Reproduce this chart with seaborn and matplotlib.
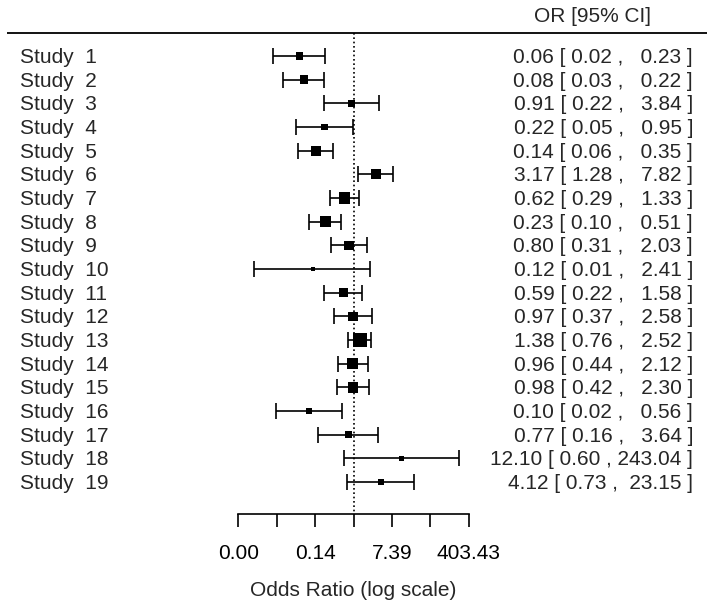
import numpy as np
import pandas as pd
import matplotlib
matplotlib.use("Agg")
import matplotlib.pyplot as plt
import seaborn as sns

# ---- data (printed with 2 decimals) ----
studies = [f"Study  {i}" for i in range(1, 20)]
odds_ratio = [0.060, 0.076, 0.91, 0.22, 0.14, 3.17, 0.62, 0.23, 0.80, 0.12,
              0.59, 0.97, 1.38, 0.96, 0.98, 0.10, 0.77, 12.10, 4.12]
ci_lower = [0.0153, 0.026, 0.22, 0.049, 0.057, 1.28, 0.29, 0.10, 0.31, 0.0055,
            0.22, 0.37, 0.76, 0.44, 0.42, 0.0176, 0.16, 0.60, 0.73]
ci_upper = [0.23, 0.22, 3.84, 0.95, 0.35, 7.82, 1.33, 0.51, 2.03, 2.41,
            1.58, 2.58, 2.52, 2.12, 2.30, 0.56, 3.64, 243.04, 23.15]
tick_values = [-6, -4, -2, 0, 2, 4, 6]          # log scale positions
tick_labels = ["0.00", "", "0.14", "", "7.39", "", "403.43"]
header = "OR [95% CI]"
xlabel = "Odds Ratio (log scale)"

sns.set_style("white")
plt.rcParams['font.family'] = ['Liberation Sans', 'DejaVu Sans']
FS = 15

df = pd.DataFrame({"study": studies, "or": odds_ratio,
                   "lo": ci_lower, "hi": ci_upper})
df["row"] = np.arange(1, len(df) + 1)
df["yi"] = np.log(df["or"])
df["lo_l"] = np.log(df["lo"])
df["hi_l"] = np.log(df["hi"])
# square sizes like metafor: linear in 1/se, rescaled to 0.5..1.5
se = (df["hi_l"] - df["yi"]) / 1.96
wi = 1 / se
p = wi / wi.sum()
p = (p - p.min()) / (p.max() - p.min()) + 0.5
side_pt = 9.13 * p * 0.72
df["area"] = side_pt**2

fig = plt.figure(figsize=(7.14, 6.09), dpi=100)
ax = fig.add_axes([0, 0, 1, 1])
px_per = 19.2
x0 = 353.5
ax.set_xlim((0 - x0) / px_per, (714 - x0) / px_per)
rstep = 23.67
def rowpx(py):
    return 1 + (py - 56) / rstep
ax.set_ylim(rowpx(609), rowpx(0))

# CI lines with caps
ax.errorbar(df["yi"], df["row"],
            xerr=[df["yi"] - df["lo_l"], df["hi_l"] - df["yi"]],
            fmt="none", ecolor="black", elinewidth=1.2, capsize=5.8,
            capthick=1.2, zorder=2)
sns.scatterplot(data=df, x="yi", y="row", size="area",
                sizes=(df["area"].min(), df["area"].max()),
                size_norm=(df["area"].min(), df["area"].max()),
                marker="s", color="black", linewidth=0, legend=False,
                ax=ax, zorder=3)

# reference line and header line
ytop = rowpx(33)
yaxis = rowpx(514)
ax.vlines(0, ytop, yaxis, colors="black", linestyles=(0, (1, 1.6)), lw=1.2)
ax.hlines(ytop, (7 - x0) / px_per, (707 - x0) / px_per, colors="black", lw=1.3)

# texts
xl = (20 - x0) / px_per
xr = (693 - x0) / px_per
for _, r in df.iterrows():
    yb = r["row"] + 7 / rstep
    ax.text(xl, yb, r["study"], ha="left", va="baseline", fontsize=FS)
    ax.text(xr, yb, f"{r['or']:.2f} [ {r['lo']:.2f} , {r['hi']:>6.2f} ]",
            ha="right", va="baseline", fontsize=FS)
ax.text((651 - x0) / px_per, rowpx(22), header, ha="right", va="baseline",
        fontsize=FS)

# axis
for s in ["left", "top", "right"]:
    ax.spines[s].set_visible(False)
ax.spines["bottom"].set_position(("data", yaxis))
ax.spines["bottom"].set_bounds(-6, 6)
ax.spines["bottom"].set_linewidth(1.2)
ax.spines["bottom"].set_color("black")
ax.set_xticks(tick_values)
ax.set_xticklabels(tick_labels, fontsize=FS)
ax.tick_params(axis="x", direction="out", length=9.4, width=1.2,
               pad=12, colors="black", bottom=True)
ax.set_yticks([])
ax.set_xlabel(xlabel, fontsize=FS)
ax.xaxis.set_label_coords(0, rowpx(596), transform=ax.transData)
ax.xaxis.label.set_va("baseline")
ax.set_ylabel("")

fig.savefig("out.png", dpi=100)
